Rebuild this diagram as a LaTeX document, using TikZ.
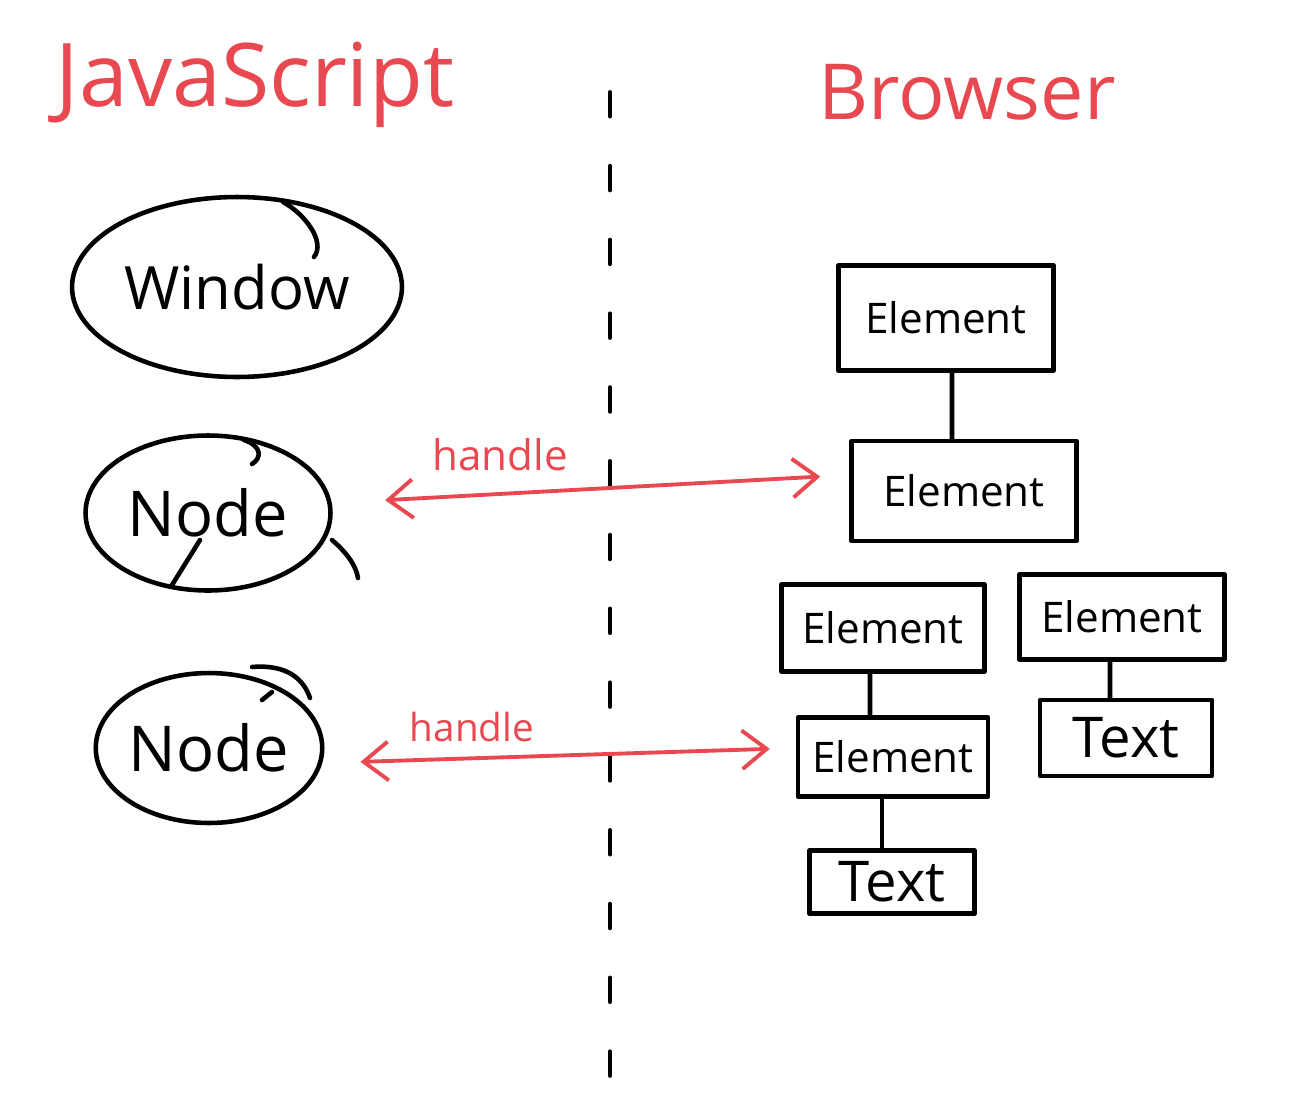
\documentclass[tikz,border=0pt]{standalone}
\usepackage{fontspec}
\setmainfont{Open Sans}
\usetikzlibrary{arrows.meta,shapes.geometric}
\definecolor{pen}{RGB}{232,72,80}
\begin{document}
\begin{tikzpicture}[x=0.02cm,y=-0.02cm,
  ink/.style={line width=2.6pt,line cap=round,line join=round},
  blob/.style={ellipse,draw,ink,inner sep=0pt},
  box/.style={rectangle,draw,ink,inner sep=0pt,font=\fontsize{24}{28}\selectfont},
  txtbox/.style={box,font=\fontsize{32}{36}\selectfont},
  redpen/.style={draw=pen,line width=2.2pt,line cap=round},
  link/.style={redpen,{Straight Barb[length=14pt,width=22pt,line width=2.2pt]}-{Straight Barb[length=14pt,width=22pt,line width=2.2pt]}},
  title/.style={text=pen},
  lbl/.style={text=pen,font=\fontsize{24}{28}\selectfont},
]
\useasboundingbox (0,0) rectangle (1300,1102);
% titles
\node[title,font=\fontsize{50}{56}\selectfont] (js) at (255,85) {JavaScript};
\node[title,font=\fontsize{44}{50}\selectfont] (br) at (967,92) {Browser};
% divider
\coordinate (dtop) at (610,92);
\coordinate (dbot) at (610,1090);
\draw[ink,line width=2.2pt,dash pattern=on 14pt off 28pt] (dtop) -- (dbot);
% JS side
\node[blob,minimum width=6.6cm,minimum height=3.6cm,font=\fontsize{34}{40}\selectfont] (W) at (237,287) {Window};
\draw[ink] (283,202) .. controls (305,214) and (326,242) .. (314,257);
\node[blob,minimum width=4.9cm,minimum height=3.1cm,font=\fontsize{36}{40}\selectfont] (N1) at (208,513) {Node};
\draw[ink] (244,440) .. controls (262,446) and (262,458) .. (252,464);
\draw[ink] (200,540) -- (172,585);
\draw[ink] (332,540) .. controls (346,552) and (356,565) .. (358,578);
\node[blob,minimum width=4.4cm,minimum height=3.0cm,font=\fontsize{36}{40}\selectfont] (N2) at (209,748) {Node};
\draw[ink] (252,667) .. controls (288,664) and (304,680) .. (310,698);
\draw[ink] (272,692) -- (262,700);
% browser side
\node[box,minimum width=4.3cm,minimum height=2.1cm] (E1) at (946,318) {Element};
\node[box,minimum width=4.5cm,minimum height=2.0cm] (E2) at (964,491) {Element};
\node[box,minimum width=4.06cm,minimum height=1.74cm] (E3) at (883,628) {Element};
\node[box,minimum width=4.1cm,minimum height=1.7cm] (E4) at (1122,617) {Element};
\node[box,minimum width=3.8cm,minimum height=1.58cm] (E5) at (893,757) {Element};
\node[txtbox,minimum width=3.44cm,minimum height=1.52cm] (T1) at (1126,738) {Text};
\node[txtbox,minimum width=3.3cm,minimum height=1.26cm] (T2) at (892,882) {Text};
\draw[ink] ([xshift=0.12cm]E1.south) -- ([xshift=-0.24cm]E2.north);
\draw[ink] ([xshift=-0.26cm]E3.south) -- ([xshift=-0.46cm]E5.north);
\draw[ink] ([xshift=-0.24cm]E4.south) -- ([xshift=-0.32cm]T1.north);
\draw[ink] ([xshift=-0.22cm]E5.south) -- ([xshift=-0.2cm]T2.north);
% handles
\draw[link,shorten <=1.05cm,shorten >=0.58cm] ([yshift=0.2cm]N1.east) -- ([yshift=0.32cm]E2.west);
\node[lbl] (h1) at (500,455) {handle};
\draw[link,shorten <=0.72cm,shorten >=0.52cm] ([yshift=-0.3cm]N2.east) -- ([yshift=0.18cm]E5.west);
\node[lbl,font=\fontsize{22}{26}\selectfont] (h2) at (472,727) {handle};
\end{tikzpicture}
\end{document}
